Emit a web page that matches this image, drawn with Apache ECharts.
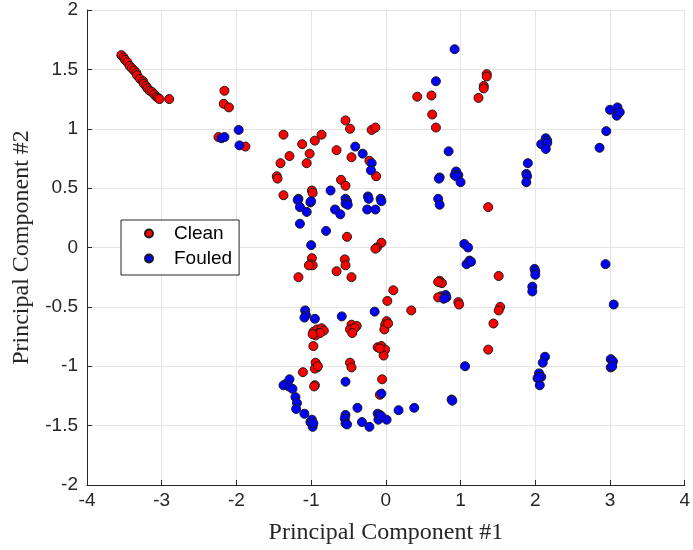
<!DOCTYPE html>
<html>
<head>
<meta charset="utf-8">
<script src="https://cdn.jsdelivr.net/npm/echarts@6/dist/echarts.min.js"></script>
<style>html,body{margin:0;padding:0;background:#fff}#c{width:693px;height:550px}</style>
</head>
<body>
<div id="c"></div>
<script>
const xTicks = [-4,-3,-2,-1,0,1,2,3,4];
const yTicks = [-2,-1.5,-1,-0.5,0,0.5,1,1.5,2];
const seriesNames = ['Clean','Fouled'];
const cleanPoints = [
[-3.54,1.62],[-3.51,1.60],[-3.49,1.58],[-3.46,1.56],[-3.43,1.53],[-3.40,1.51],[-3.37,1.49],[-3.34,1.47],[-3.33,1.45],[-3.29,1.42],[-3.25,1.40],[-3.24,1.38],[-3.21,1.36],[-3.19,1.34],[-3.16,1.32],[-3.13,1.31],[-3.10,1.29],[-3.07,1.27],[-3.05,1.26],[-3.03,1.25],[-2.90,1.25],
[-2.16,1.32],[-2.17,1.21],[-2.10,1.18],[-2.24,0.93],[-1.88,0.85],
[-1.37,0.95],[-1.12,0.87],[-0.95,0.90],[-0.86,0.95],[-1.29,0.77],[-1.02,0.79],[-1.41,0.71],[-1.06,0.71],[-1.46,0.60],[-1.45,0.58],[-1.37,0.44],[-0.99,0.48],[-0.98,0.46],
[-0.54,1.07],[-0.48,1.00],[-0.19,0.99],[-0.14,1.01],[-0.66,0.82],[-0.46,0.76],[-0.22,0.73],[-0.13,0.60],[-0.60,0.57],[-0.54,0.52],[-0.52,0.09],[-0.06,0.04],[-0.12,0.00],[-0.14,-0.01],
[0.42,1.27],[0.61,1.28],[0.62,1.12],[0.67,1.01],[1.35,1.46],[1.35,1.44],[1.31,1.36],[1.31,1.34],[1.24,1.26],[1.37,0.34],
[-0.99,-0.09],[-1.01,-0.14],[-0.98,-0.15],[-1.03,-0.15],[-1.17,-0.25],[-0.55,-0.10],[-0.54,-0.15],[-0.66,-0.20],[-0.46,-0.25],[0.10,-0.36],[0.02,-0.45],
[-0.97,-0.71],[-0.92,-0.69],[-0.86,-0.68],[-0.90,-0.72],[-0.83,-0.70],[-0.94,-0.74],[-0.88,-0.72],[-0.98,-0.73],[-0.97,-0.83],
[-0.46,-0.65],[-0.39,-0.66],[-0.48,-0.69],[-0.42,-0.68],[-0.45,-0.72],
[0.01,-0.62],[-0.01,-0.65],[-0.02,-0.69],[0.03,-0.64],
[-0.11,-0.84],[-0.06,-0.83],[-0.01,-0.86],[-0.03,-0.91],[-0.08,-0.85],
[-0.94,-0.97],[-0.92,-1.01],[-0.95,-1.02],[-0.91,-1.00],[-1.11,-1.05],[-0.48,-0.97],[-0.46,-1.01],[-0.95,-1.16],[-0.96,-1.17],[-0.05,-1.11],[-0.08,-1.24],
[1.51,-0.24],[0.72,-0.28],[0.75,-0.30],[0.70,-0.29],[0.74,-0.41],[0.77,-0.43],[0.70,-0.42],[0.97,-0.46],[0.98,-0.48],[0.34,-0.53],[1.53,-0.50],[1.51,-0.53],[1.44,-0.64],[1.37,-0.86]
];
const fouledPoints = [
[-2.20,0.92],[-2.16,0.93],[-1.97,0.99],[-1.96,0.86],
[-0.41,0.85],[-0.31,0.79],[-0.19,0.71],[-0.20,0.65],[-0.74,0.48],[-1.17,0.41],[-1.18,0.40],[-1.15,0.34],[-1.06,0.30],[-1.01,0.38],[-1.00,0.39],[-1.15,0.20],[-0.80,0.14],[-1.00,0.02],[-0.68,0.32],[-0.61,0.28],[-0.54,0.41],[-0.52,0.39],[-0.54,0.37],[-0.51,0.36],[-0.24,0.43],[-0.23,0.41],[-0.25,0.32],[-0.14,0.32],[-0.07,0.41],[-0.06,0.39],
[0.92,1.67],[0.67,1.40],[0.84,0.81],[0.72,0.59],[0.71,0.58],[0.94,0.64],[0.92,0.61],[0.97,0.61],[0.94,0.60],[1.00,0.55],[0.70,0.41],[0.72,0.36],[1.05,0.03],[1.10,0.00],
[1.90,0.71],[1.88,0.62],[1.89,0.60],[1.88,0.55],
[2.14,0.92],[2.16,0.90],[2.08,0.87],[2.16,0.88],[2.14,0.83],[2.86,0.84],[2.95,0.98],[3.00,1.16],[3.10,1.18],[3.11,1.13],[3.09,1.11],[3.13,1.14],
[-1.08,-0.53],[-1.07,-0.57],[-1.09,-0.59],[-0.95,-0.60],[-0.59,-0.58],[-0.15,-0.54],[-0.06,-1.23],[-0.54,-1.13],
[-1.34,-1.15],[-1.37,-1.16],[-1.29,-1.11],[-1.30,-1.17],[-1.25,-1.19],[-1.21,-1.26],[-1.19,-1.31],[-1.20,-1.36],[-1.09,-1.40],[-1.01,-1.47],[-0.99,-1.45],[-0.98,-1.51],[-0.97,-1.48],
[-0.54,-1.41],[-0.55,-1.44],[-0.54,-1.48],[-0.52,-1.49],[-0.38,-1.35],[-0.32,-1.47],[-0.22,-1.51],[-0.11,-1.40],[-0.10,-1.45],[-0.08,-1.41],[0.01,-1.45],[-0.06,-1.42],[0.17,-1.37],
[1.08,-0.14],[1.12,-0.11],[1.14,-0.12],[0.80,-0.40],[0.81,-0.42],[0.78,-0.43],[1.06,-1.00],[0.88,-1.28],[0.89,-1.29],[0.38,-1.35],
[1.99,-0.18],[2.00,-0.20],[2.00,-0.23],[1.96,-0.33],[1.96,-0.37],[2.94,-0.14],[3.05,-0.48],[2.13,-0.92],[2.10,-0.97],[2.05,-1.06],[2.03,-1.10],[2.08,-1.09],[2.06,-1.16],[2.05,-1.09],[3.01,-0.94],[3.04,-0.96],[3.01,-1.01],[3.03,-1.00]
];

const chart = echarts.init(document.getElementById('c'), null, {renderer:'canvas'});
const axisCol = '#262626';
const labelFont = {color: axisCol, fontSize: 19, fontFamily: 'Liberation Sans, Arial, sans-serif'};
const titleFont = {color: axisCol, fontSize: 24, fontFamily: 'Liberation Serif, Times New Roman, serif'};
chart.setOption({
  animation: false,
  backgroundColor: '#fff',
  grid: {left: 87, right: 5, top: 10, bottom: 64, containLabel: false},
  legend: {
    orient: 'vertical', left: 121, top: 220,
    data: seriesNames,
    icon: 'circle', itemWidth: 8, itemHeight: 8, itemGap: 6,
    padding: [4, 7, 7, 23],
    borderColor: axisCol, borderWidth: 1, borderRadius: 0,
    backgroundColor: '#fff',
    textStyle: {color: '#000', fontSize: 19, fontFamily: 'Liberation Sans, Arial, sans-serif', lineHeight: 19, padding: [0,0,0,16]}
  },
  xAxis: {
    type: 'value', min: xTicks[0], max: xTicks[xTicks.length-1], interval: 1,
    name: 'Principal Component #1', nameLocation: 'middle', nameGap: 36,
    nameTextStyle: titleFont,
    axisLine: {show: true, onZero: false, lineStyle: {color: axisCol, width: 1}},
    axisTick: {show: true, inside: true, length: 5, lineStyle: {color: axisCol}},
    axisLabel: Object.assign({margin: 6}, labelFont),
    splitLine: {show: true, lineStyle: {color: '#e5e5e5', width: 1}}
  },
  yAxis: {
    type: 'value', min: yTicks[0], max: yTicks[yTicks.length-1], interval: 0.5,
    name: 'Principal Component #2', nameLocation: 'middle', nameGap: 53,
    nameTextStyle: titleFont,
    axisLine: {show: true, onZero: false, lineStyle: {color: axisCol, width: 1}},
    axisTick: {show: true, inside: true, length: 5, lineStyle: {color: axisCol}},
    axisLabel: Object.assign({margin: 9}, labelFont),
    splitLine: {show: true, lineStyle: {color: '#e5e5e5', width: 1}}
  },
  series: [
    {name: seriesNames[0], type: 'scatter', data: cleanPoints, symbol: 'circle', symbolSize: 9,
     itemStyle: {color: '#ff0000', borderColor: '#1a1a1a', borderWidth: 1, opacity: 1}},
    {name: seriesNames[1], type: 'scatter', data: fouledPoints, symbol: 'circle', symbolSize: 9,
     itemStyle: {color: '#0000ff', borderColor: '#1a1a1a', borderWidth: 1, opacity: 1}}
  ]
});
</script>
</body>
</html>
